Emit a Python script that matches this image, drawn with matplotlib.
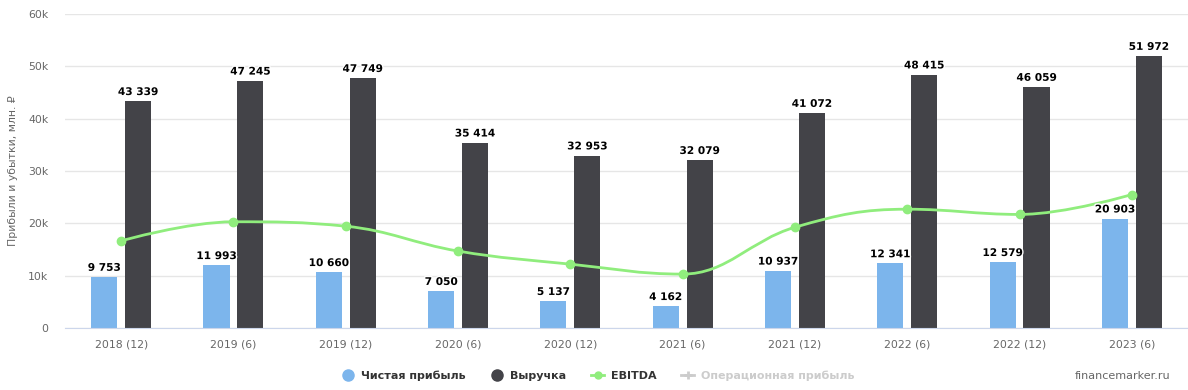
import numpy as np
import matplotlib
matplotlib.use("Agg")
import matplotlib.pyplot as plt
import matplotlib.patheffects as pe
from matplotlib.path import Path
from matplotlib.patches import PathPatch
from matplotlib.lines import Line2D

# данные
periods = ['2018 (12)', '2019 (6)', '2019 (12)', '2020 (6)', '2020 (12)',
           '2021 (6)', '2021 (12)', '2022 (6)', '2022 (12)', '2023 (6)']
net_profit = [9753, 11993, 10660, 7050, 5137, 4162, 10937, 12341, 12579, 20903]
revenue = [43339, 47245, 47749, 35414, 32953, 32079, 41072, 48415, 46059, 51972]
ebitda = [16650, 20300, 19450, 14700, 12200, 10300, 19250, 22700, 21700, 25500]

c_blue = '#7cb5ec'
c_dark = '#434348'
c_green = '#90ed7d'
c_grey = '#cccccc'
c_text = '#666666'

plt.rcParams['font.family'] = ['DejaVu Sans']

fig = plt.figure(figsize=(11.88, 3.9), dpi=100)
ax = fig.add_axes([65 / 1188, 1 - 328 / 390, 1123 / 1188, 314 / 390])

x = np.arange(len(periods))
w = 0.232
off = 0.151
b1 = ax.bar(x - off, net_profit, w, color=c_blue, zorder=2)
b2 = ax.bar(x + off, revenue, w, color=c_dark, zorder=2)

outline = [pe.withStroke(linewidth=2, foreground='white')]
for bars, vals in ((b1, net_profit), (b2, revenue)):
    for r, v in zip(bars, vals):
        ax.annotate('{:,}'.format(v).replace(',', ' '),
                    (r.get_x() + r.get_width() / 2, v), xytext=(0, 3),
                    textcoords='offset points', ha='center', va='bottom',
                    fontsize=7.6, fontweight='bold', color='black',
                    path_effects=outline, zorder=5)


# сглаженная линия как в highcharts (spline)
def spline_path(xs, ys):
    n = len(xs)
    sm, dn = 1.5, 2.5
    lc = [None] * n
    rc = [None] * n
    for i in range(1, n - 1):
        px, py = xs[i - 1], ys[i - 1]
        nx, ny = xs[i + 1], ys[i + 1]
        cx, cy = xs[i], ys[i]
        lx, ly = (sm * cx + px) / dn, (sm * cy + py) / dn
        rx, ry = (sm * cx + nx) / dn, (sm * cy + ny) / dn
        corr = ((ry - ly) * (rx - cx)) / (rx - lx) + cy - ry
        ly += corr
        ry += corr
        if ly > max(py, cy):
            ly = max(py, cy); ry = 2 * cy - ly
        elif ly < min(py, cy):
            ly = min(py, cy); ry = 2 * cy - ly
        if ry > max(ny, cy):
            ry = max(ny, cy); ly = 2 * cy - ry
        elif ry < min(ny, cy):
            ry = min(ny, cy); ly = 2 * cy - ry
        lc[i] = (lx, ly)
        rc[i] = (rx, ry)
    verts = [(xs[0], ys[0])]
    codes = [Path.MOVETO]
    for i in range(1, n):
        c1 = rc[i - 1] if rc[i - 1] is not None else (xs[i - 1], ys[i - 1])
        c2 = lc[i] if lc[i] is not None else (xs[i], ys[i])
        verts += [c1, c2, (xs[i], ys[i])]
        codes += [Path.CURVE4] * 3
    return Path(verts, codes)


ax.add_patch(PathPatch(spline_path(list(x.astype(float)), ebitda),
                       fill=False, edgecolor=c_green, lw=2, zorder=3))
ax.plot(x, ebitda, 'o', color=c_green, ms=6, zorder=4)

ax.set_xlim(-0.5, len(periods) - 0.5)
ax.set_ylim(0, 60000)
ax.set_yticks(range(0, 60001, 10000))
ax.set_yticklabels(['0'] + ['{}k'.format(i) for i in range(10, 61, 10)])
ax.set_xticks(x)
ax.set_xticklabels(periods)
ax.tick_params(axis='y', length=0, pad=12, labelsize=7.8, labelcolor=c_text)
ax.tick_params(axis='x', length=0, pad=8, labelsize=7.8, labelcolor=c_text)
ax.grid(axis='y', color='#e6e6e6', lw=1, zorder=0)
for s in ('top', 'right', 'left'):
    ax.spines[s].set_visible(False)
ax.spines['bottom'].set_color('#ccd6eb')
ax.set_ylabel('Прибыли и убытки, млн. ₽', fontsize=7.8, color=c_text,
              va='center')
ax.yaxis.set_label_coords((13 - 65) / 1123, 0.5)

handles = [
    Line2D([], [], ls='none', marker='o', ms=8, color=c_blue),
    Line2D([], [], ls='none', marker='o', ms=8, color=c_dark),
    Line2D([], [], color=c_green, lw=2, marker='o', ms=5),
    Line2D([], [], color=c_grey, lw=2, marker='+', ms=6, mew=2),
]
labels = ['Чистая прибыль', 'Выручка', 'EBITDA', 'Операционная прибыль']
leg = fig.legend(handles, labels, loc='center', bbox_to_anchor=(598 / 1188, 1 - 376 / 390),
                 ncol=4, frameon=False, fontsize=8, handlelength=1.2,
                 columnspacing=2.2, handletextpad=0.6)
for t in leg.get_texts():
    t.set_fontweight('bold')
    t.set_color('#333333')
leg.get_texts()[3].set_color(c_grey)

fig.text(1170 / 1188, 1 - 376 / 390, 'financemarker.ru', ha='right', va='center',
         fontsize=8, color=c_text)

fig.savefig('out.png', dpi=100)
